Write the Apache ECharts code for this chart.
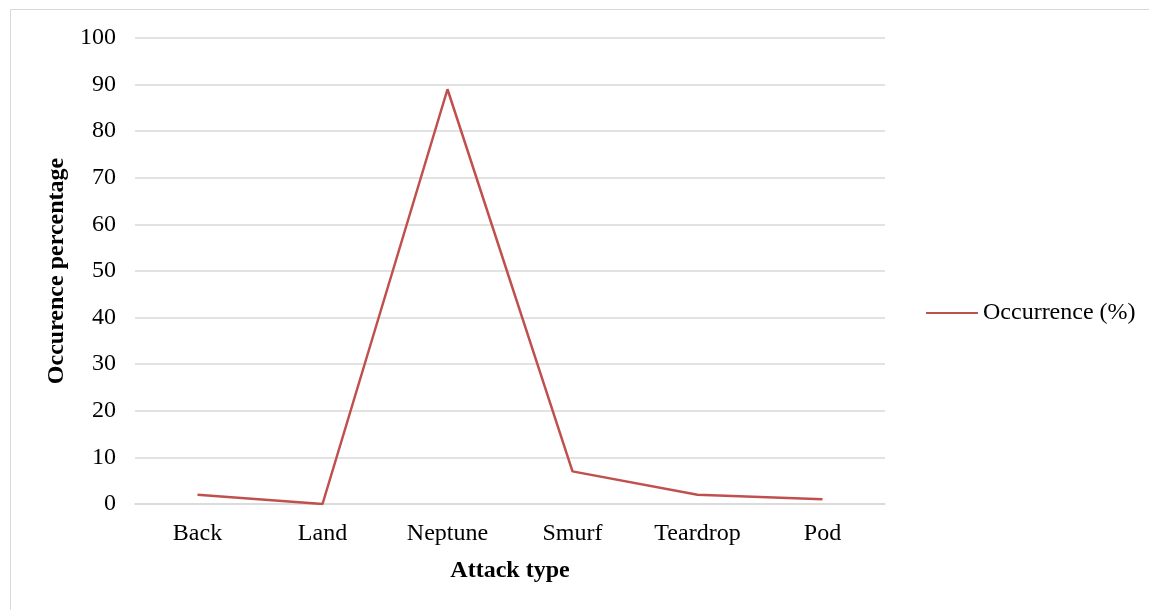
<!DOCTYPE html>
<html>
<head>
<meta charset="utf-8">
<script src="https://cdn.jsdelivr.net/npm/echarts@6/dist/echarts.min.js"></script>
<style>html,body{margin:0;padding:0;background:#fff;}#c{width:1149px;height:610px;}</style>
</head>
<body>
<div id="c"></div>
<script>
const categories = ['Back', 'Land', 'Neptune', 'Smurf', 'Teardrop', 'Pod'];
const occurrence = [2, 0, 89, 7, 2, 1];
const seriesName = 'Occurrence (%)';
const xTitle = 'Attack type';
const yTitle = 'Occurence percentage';

const font = '"Liberation Serif", "Times New Roman", serif';
const chart = echarts.init(document.getElementById('c'), null, {renderer: 'canvas'});
chart.setOption({
  animation: false,
  backgroundColor: '#fff',
  textStyle: {fontFamily: font},
  graphic: [{
    type: 'rect', shape: {x: 10.5, y: 9.5, width: 1200, height: 700},
    style: {fill: 'none', stroke: '#d9d9d9', lineWidth: 1}, silent: true, z: -1
  }],
  grid: {left: 135, right: 264, top: 38, bottom: 106, containLabel: false},
  legend: {
    left: 926, top: 301, padding: 0, data: [{name: seriesName, icon: 'rect'}],
    itemWidth: 52, itemHeight: 2, itemGap: 6,
    textStyle: {fontFamily: font, fontSize: 24, color: '#000', padding: [0,0,0,0]}
  },
  xAxis: {
    type: 'category', data: categories, boundaryGap: true,
    axisLine: {show: true, lineStyle: {color: '#d9d9d9', width: 1.5}},
    axisTick: {show: false},
    axisLabel: {fontFamily: font, fontSize: 24, color: '#000', margin: 18},
    name: xTitle, nameLocation: 'middle', nameGap: 55,
    nameTextStyle: {fontFamily: font, fontSize: 24, fontWeight: 'bold', color: '#000'}
  },
  yAxis: {
    type: 'value', min: 0, max: 100, interval: 10,
    axisLine: {show: false}, axisTick: {show: false},
    splitLine: {lineStyle: {color: '#d9d9d9', width: 1.5}},
    axisLabel: {fontFamily: font, fontSize: 24, color: '#000', margin: 19, padding: [4, 0, 0, 0]},
    name: yTitle, nameLocation: 'middle', nameGap: 57, nameRotate: 90,
    nameTextStyle: {fontFamily: font, fontSize: 24, fontWeight: 'bold', color: '#000'}
  },
  series: [{
    name: seriesName, type: 'line', data: occurrence,
    showSymbol: false, symbol: 'none',
    lineStyle: {color: '#c0504d', width: 2.5},
    itemStyle: {color: '#c0504d'}
  }]
});
</script>
</body>
</html>
